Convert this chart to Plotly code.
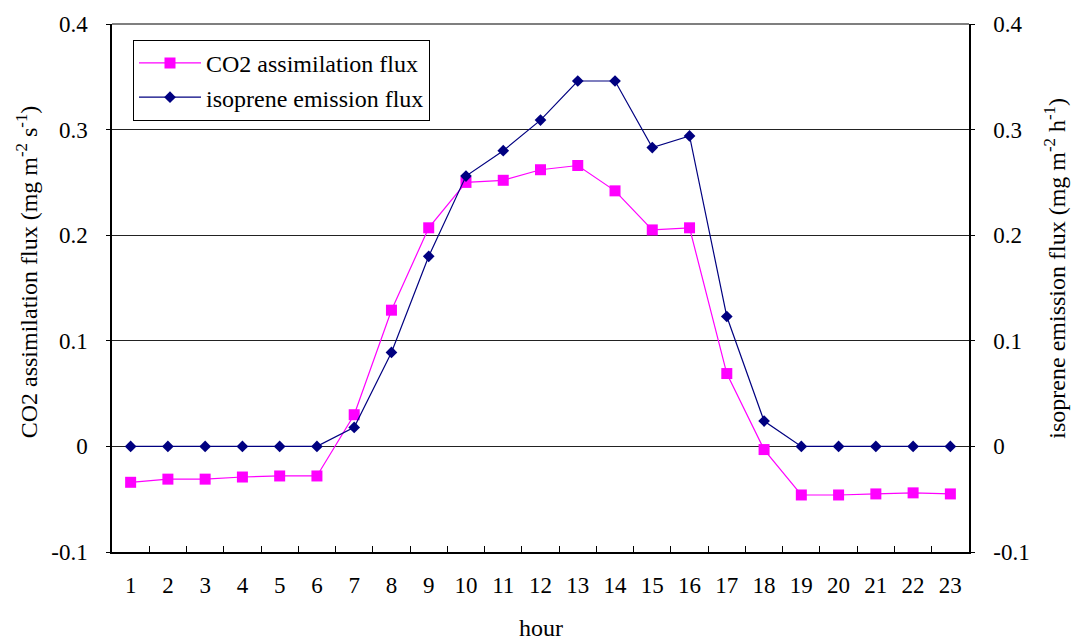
import plotly.graph_objects as go

hours = [str(h) for h in range(1, 24)]
co2_flux = [-0.034, -0.031, -0.031, -0.029, -0.028, -0.028, 0.030, 0.129, 0.207,
            0.250, 0.252, 0.262, 0.266, 0.242, 0.205, 0.207, 0.069, -0.003,
            -0.046, -0.046, -0.045, -0.044, -0.045]
isoprene_flux = [0.0, 0.0, 0.0, 0.0, 0.0, 0.0, 0.018, 0.089, 0.180,
                 0.256, 0.280, 0.309, 0.346, 0.346, 0.283, 0.294, 0.123, 0.024,
                 0.0, 0.0, 0.0, 0.0, 0.0]
y_ticks = [-0.1, 0.0, 0.1, 0.2, 0.3, 0.4]
y_tick_text = ["-0.1", "0", "0.1", "0.2", "0.3", "0.4"]

FONT = "Liberation Serif"

fig = go.Figure()
fig.add_trace(go.Scatter(
    x=hours, y=co2_flux, name="CO2 assimilation flux", mode="lines+markers",
    line=dict(color="#FF00FF", width=1.2),
    marker=dict(symbol="square", size=11, color="#FF00FF"),
))
fig.add_trace(go.Scatter(
    x=hours, y=isoprene_flux, name="isoprene emission flux", mode="lines+markers",
    line=dict(color="#000080", width=1.2),
    marker=dict(symbol="diamond", size=9, color="#000080"),
    yaxis="y2",
))

axis_common = dict(
    range=[-0.1, 0.4], tickvals=y_ticks, ticktext=y_tick_text,
    showgrid=True, gridcolor="#222222", gridwidth=1,
    showline=True, linecolor="black", linewidth=1.5,
    ticks="outside", ticklen=4, tickcolor="black",
    zeroline=False, ticklabelstandoff=14,
    tickfont=dict(family=FONT, size=23, color="black"),
)

fig.update_layout(
    width=1072, height=639,
    margin=dict(l=112, r=103, t=24, b=87),
    paper_bgcolor="white", plot_bgcolor="white",
    font=dict(family=FONT, size=23, color="black"),
    showlegend=True,
    legend=dict(
        x=0.0245, y=0.97, xanchor="left", yanchor="top",
        bgcolor="white", bordercolor="black", borderwidth=1,
        itemwidth=62,
        font=dict(family=FONT, size=24, color="black"),
    ),
    xaxis=dict(
        type="category", range=[-0.5, 22.5], tickson="boundaries",
        ticks="inside", ticklen=6,
        tickcolor="black", showline=True, linecolor="black", linewidth=1.5,
        showgrid=False, ticklabelstandoff=12,
        tickfont=dict(family=FONT, size=23, color="black"),
    ),
    yaxis=dict(**axis_common, side="left"),
    yaxis2=dict(**axis_common, side="right", overlaying="y"),
)

# top border of the plot area
fig.add_shape(type="line", xref="paper", yref="paper", x0=0, x1=1, y0=1, y1=1,
              line=dict(color="#555555", width=1.5))

fig.add_annotation(
    text="CO2 assimilation flux (mg m<sup>-2</sup> s<sup>-1</sup>)",
    xref="paper", yref="paper", x=-0.099, y=0.53, textangle=-90,
    showarrow=False, xanchor="center", yanchor="middle",
    font=dict(family=FONT, size=24, color="black"),
)
fig.add_annotation(
    text="isoprene emission flux (mg m<sup>-2</sup> h<sup>-1</sup>)",
    xref="paper", yref="paper", x=1.10, y=0.538, textangle=-90,
    showarrow=False, xanchor="center", yanchor="middle",
    font=dict(family=FONT, size=24, color="black"),
)
fig.add_annotation(
    text="hour", xref="paper", yref="paper", x=0.5, y=-0.144,
    showarrow=False, xanchor="center", yanchor="middle",
    font=dict(family=FONT, size=24, color="black"),
)

fig.write_html("out.html")
